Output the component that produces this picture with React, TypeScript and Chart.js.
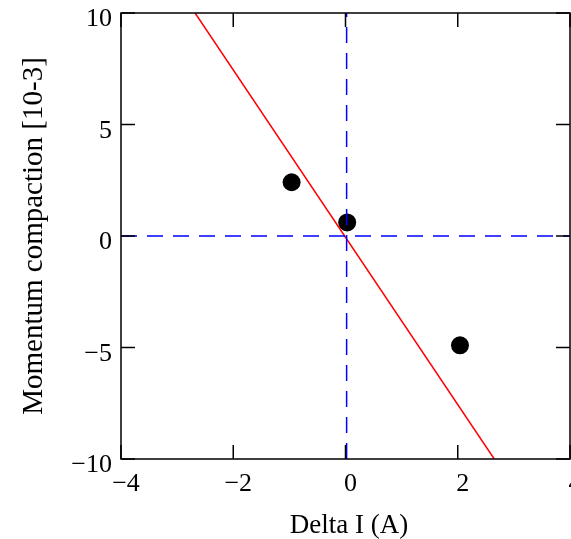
import React, { useEffect, useRef } from "react";
import { Chart, registerables } from "chart.js";

Chart.register(...registerables);

const xTicks = [-4, -2, 0, 2, 4];
const yTicks = [-10, -5, 0, 5, 10];
const measuredX = [-0.96, 0.03, 2.04];
const measuredY = [2.41, 0.61, -4.9];
const fitX = [-2.68, 2.65];
const fitY = [10, -10];
const zeroLineX = [-4, 4];
const zeroLineY = [0, 0];
const vertLineX = [0.02, 0.02];
const vertLineY = [-10, 10];
const xTitle = "Delta I (A)";
const yTitle = "Momentum compaction [10-3]";

const FONT = "'Liberation Serif', 'Times New Roman', serif";

const minus = (v: number) => String(v).replace("-", "\u2212");

const framePlugin = {
  id: "frame",
  afterDraw(chart: any) {
    const { ctx, chartArea } = chart;
    const { left, right, top, bottom } = chartArea;
    const xs = chart.scales.x;
    const ys = chart.scales.y;
    const tl = 14;
    ctx.save();
    ctx.strokeStyle = "#000";
    ctx.lineWidth = 1.5;
    ctx.strokeRect(left, top, right - left, bottom - top);
    ctx.beginPath();
    xTicks.forEach((v) => {
      const px = xs.getPixelForValue(v);
      ctx.moveTo(px, bottom);
      ctx.lineTo(px, bottom - tl);
      ctx.moveTo(px, top);
      ctx.lineTo(px, top + tl);
    });
    yTicks.forEach((v) => {
      const py = ys.getPixelForValue(v);
      ctx.moveTo(left, py);
      ctx.lineTo(left + tl, py);
      ctx.moveTo(right, py);
      ctx.lineTo(right - tl, py);
    });
    ctx.stroke();

    // tick labels
    ctx.fillStyle = "#000";
    ctx.font = `26px ${FONT}`;
    ctx.textBaseline = "alphabetic";
    ctx.textAlign = "center";
    xTicks.forEach((v) => {
      const px = xs.getPixelForValue(v);
      ctx.fillText(minus(v), px + 5, bottom + 32);
    });
    ctx.textAlign = "right";
    yTicks.forEach((v) => {
      const py = ys.getPixelForValue(v);
      ctx.fillText(minus(v), left - 9, py + 13.3);
    });

    // axis titles
    ctx.font = `27px ${FONT}`;
    ctx.textAlign = "center";
    ctx.fillText(xTitle, (left + right) / 2 + 3.5, 533);
    ctx.save();
    ctx.font = `29px ${FONT}`;
    ctx.translate(41.7, (top + bottom) / 2);
    ctx.rotate(-Math.PI / 2);
    ctx.textAlign = "center";
    ctx.fillText(yTitle, 0, 0);
    ctx.restore();
    ctx.restore();
  },
};

export default function App() {
  const ref = useRef<HTMLCanvasElement>(null);
  useEffect(() => {
    if (!ref.current) return;
    const chart = new Chart(ref.current, {
      type: "scatter",
      data: {
        datasets: [
          {
            data: zeroLineX.map((x, i) => ({ x, y: zeroLineY[i] })),
            showLine: true,
            borderColor: "#0000ff",
            borderWidth: 1.5,
            borderDash: [16, 10],
            pointRadius: 0,
          },
          {
            data: vertLineX.map((x, i) => ({ x, y: vertLineY[i] })),
            showLine: true,
            borderColor: "#0000ff",
            borderWidth: 1.5,
            borderDash: [16, 10],
            pointRadius: 0,
          },
          {
            data: fitX.map((x, i) => ({ x, y: fitY[i] })),
            showLine: true,
            borderColor: "#ff0000",
            borderWidth: 1.5,
            pointRadius: 0,
          },
          {
            data: measuredX.map((x, i) => ({ x, y: measuredY[i] })),
            backgroundColor: "#000",
            borderColor: "#000",
            borderWidth: 0,
            pointRadius: 9,
          },
        ],
      },
      options: {
        responsive: false,
        animation: false,
        layout: { autoPadding: false, padding: { top: 13, right: 1, left: 0, bottom: 0 } },
        plugins: { legend: { display: false }, tooltip: { enabled: false } },
        scales: {
          x: {
            type: "linear",
            min: -4,
            max: 4,
            afterBuildTicks: (s: any) => {
              s.ticks = xTicks.map((value) => ({ value }));
            },
            afterFit: (s: any) => {
              s.height = 80;
              s.paddingLeft = 0;
              s.paddingRight = 0;
            },
            grid: { display: false, drawTicks: false },
            border: { display: false },
            ticks: { display: false },
            title: { display: false },
          },
          y: {
            type: "linear",
            min: -10,
            max: 10,
            afterBuildTicks: (s: any) => {
              s.ticks = yTicks.map((value) => ({ value }));
            },
            afterFit: (s: any) => {
              s.width = 121;
              s.paddingTop = 0;
              s.paddingBottom = 0;
            },
            grid: { display: false, drawTicks: false },
            border: { display: false },
            ticks: { display: false },
            title: { display: false },
          },
        },
      },
      plugins: [framePlugin],
    });
    return () => chart.destroy();
  }, []);
  return (
    <div style={{ position: "absolute", left: 0, top: 0, width: 571, height: 539, background: "#fff" }}>
      <canvas ref={ref} width={571} height={539} style={{ display: "block" }} />
    </div>
  );
}
